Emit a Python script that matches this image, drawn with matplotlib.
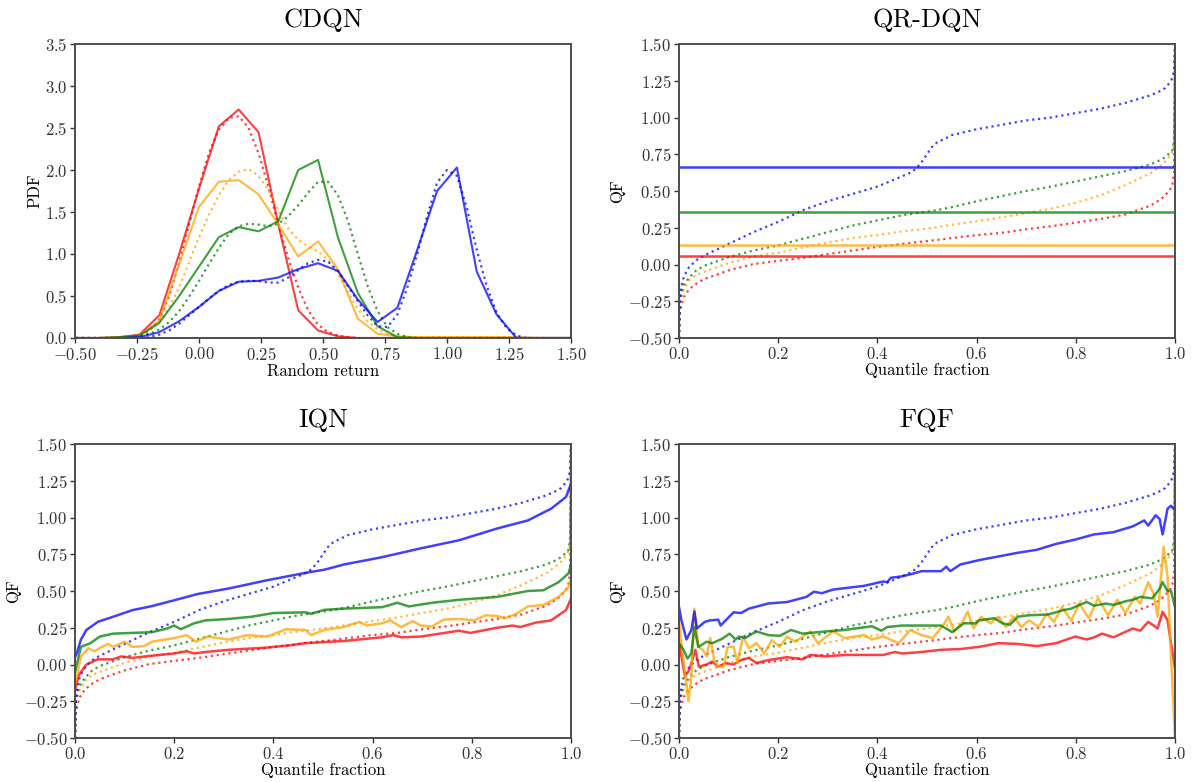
import matplotlib
matplotlib.use("Agg")
import matplotlib.pyplot as plt
import numpy as np

plt.rcParams['font.family'] = ['cmr10', 'DejaVu Serif']
plt.rcParams['mathtext.fontset'] = 'cm'
plt.rcParams['axes.formatter.use_mathtext'] = True
plt.rcParams['axes.unicode_minus'] = True

colors = ['red', 'orange', 'green', 'blue']

# ---------------- CDQN : categorical atoms (solid) and target pdf (dotted)
atoms = [-0.56, -0.48, -0.40, -0.32, -0.24, -0.16, -0.08, 0.00, 0.08, 0.16, 0.24, 0.32, 0.40, 0.48,
         0.56, 0.64, 0.72, 0.80, 0.88, 0.96, 1.04, 1.12, 1.20, 1.28, 1.36, 1.44, 1.52]
cdqn_red = [0, 0, 0, 0.01, 0.04, 0.27, 1.00, 1.78, 2.52, 2.72, 2.45, 1.35, 0.33, 0.09,
            0.02, 0, 0, 0, 0, 0, 0, 0, 0, 0, 0, 0, 0]
cdqn_orange = [0, 0, 0, 0.01, 0.03, 0.20, 0.88, 1.56, 1.86, 1.88, 1.71, 1.35, 0.97, 1.15,
               0.82, 0.23, 0.05, 0.02, 0.01, 0.01, 0.01, 0.01, 0.01, 0.01, 0, 0, 0]
cdqn_green = [0, 0, 0, 0.01, 0.03, 0.18, 0.50, 0.85, 1.20, 1.32, 1.27, 1.39, 2.00, 2.12,
              1.20, 0.54, 0.14, 0.01, 0, 0, 0, 0, 0, 0, 0, 0, 0]
cdqn_blue = [0, 0, 0, 0, 0.01, 0.07, 0.20, 0.37, 0.56, 0.67, 0.68, 0.72, 0.82, 0.89,
             0.80, 0.46, 0.19, 0.36, 1.05, 1.75, 2.03, 0.79, 0.28, 0.0, 0, 0, 0]

ret_grid = [-0.52, -0.48, -0.44, -0.40, -0.36, -0.32, -0.28, -0.24, -0.20, -0.16, -0.12, -0.08, -0.04,
            0.00, 0.04, 0.08, 0.12, 0.16, 0.20, 0.24, 0.28, 0.32, 0.36, 0.40, 0.44, 0.48, 0.52,
            0.56, 0.60, 0.64, 0.68, 0.72, 0.76, 0.80, 0.84, 0.88, 0.92, 0.96, 1.00, 1.04, 1.08,
            1.12, 1.16, 1.20, 1.24, 1.28, 1.32, 1.36, 1.40, 1.44, 1.48, 1.52]
pdf_red = [0, 0, 0, 0, 0, 0, 0.01, 0.03, 0.09, 0.22, 0.50, 0.90, 1.35,
           1.80, 2.20, 2.48, 2.62, 2.64, 2.50, 2.20, 1.80, 1.35, 0.95, 0.60, 0.33, 0.16, 0.07,
           0.03, 0.01, 0, 0, 0, 0, 0, 0, 0, 0, 0, 0, 0, 0,
           0, 0, 0, 0, 0, 0, 0, 0, 0, 0, 0]
pdf_orange = [0, 0, 0, 0, 0, 0, 0, 0.02, 0.08, 0.20, 0.37, 0.60, 0.90,
              1.20, 1.47, 1.70, 1.88, 1.98, 2.01, 1.93, 1.76, 1.52, 1.30, 1.17, 1.09, 1.03, 0.93,
              0.76, 0.55, 0.35, 0.20, 0.10, 0.05, 0.02, 0.01, 0.01, 0.01, 0.01, 0.01, 0.01, 0.01,
              0.01, 0.01, 0.01, 0.01, 0.01, 0, 0, 0, 0, 0, 0]
pdf_green = [0, 0, 0, 0, 0, 0, 0, 0.02, 0.05, 0.10, 0.19, 0.32, 0.49,
             0.68, 0.88, 1.07, 1.24, 1.33, 1.36, 1.35, 1.33, 1.36, 1.45, 1.58, 1.73, 1.86, 1.86,
             1.70, 1.40, 1.00, 0.62, 0.32, 0.13, 0.05, 0.01, 0, 0, 0, 0, 0, 0,
             0, 0, 0, 0, 0, 0, 0, 0, 0, 0, 0]
pdf_blue = [0, 0, 0, 0, 0, 0, 0, 0, 0.01, 0.04, 0.09, 0.17, 0.27,
            0.37, 0.47, 0.56, 0.63, 0.67, 0.68, 0.68, 0.66, 0.66, 0.72, 0.81, 0.89, 0.93, 0.91,
            0.80, 0.62, 0.44, 0.27, 0.14, 0.13, 0.28, 0.60, 1.00, 1.45, 1.85, 2.00, 1.93, 1.55,
            1.05, 0.62, 0.30, 0.12, 0.03, 0.0, 0, 0, 0, 0, 0]

# ---------------- target quantile functions (dotted), shared by QR-DQN / IQN / FQF
tau_grid = [0, 0.002, 0.005, 0.01, 0.02, 0.035, 0.05, 0.075, 0.1, 0.15, 0.2, 0.25, 0.3, 0.35,
            0.4, 0.45, 0.47, 0.48, 0.49, 0.5, 0.51, 0.52, 0.55, 0.6, 0.65, 0.7, 0.75, 0.8,
            0.85, 0.9, 0.95, 0.97, 0.98, 0.99, 0.995, 0.998, 1.0]
qf_red = [-0.5, -0.33, -0.27, -0.22, -0.17, -0.13, -0.10, -0.07, -0.04, 0.003, 0.025, 0.045, 0.07,
          0.095, 0.12, 0.14, 0.148, 0.152, 0.156, 0.16, 0.163, 0.167, 0.18, 0.20, 0.215, 0.24,
          0.26, 0.285, 0.31, 0.34, 0.40, 0.44, 0.47, 0.51, 0.55, 0.62, 1.5]
qf_orange = [-0.5, -0.28, -0.22, -0.17, -0.11, -0.07, -0.05, -0.02, 0.01, 0.055, 0.08, 0.115, 0.15,
             0.18, 0.20, 0.225, 0.233, 0.237, 0.24, 0.245, 0.25, 0.254, 0.27, 0.295, 0.32, 0.35,
             0.38, 0.42, 0.47, 0.54, 0.62, 0.67, 0.70, 0.74, 0.77, 0.82, 1.5]
qf_green = [-0.5, -0.25, -0.19, -0.14, -0.09, -0.04, -0.01, 0.02, 0.05, 0.095, 0.13, 0.175, 0.22,
            0.265, 0.30, 0.335, 0.345, 0.35, 0.355, 0.36, 0.365, 0.37, 0.39, 0.43, 0.465, 0.50,
            0.53, 0.565, 0.60, 0.635, 0.68, 0.71, 0.73, 0.76, 0.78, 0.85, 1.5]
qf_blue = [-0.5, -0.22, -0.15, -0.08, -0.02, 0.03, 0.06, 0.10, 0.14, 0.22, 0.29, 0.37, 0.43,
           0.48, 0.53, 0.60, 0.63, 0.66, 0.70, 0.75, 0.80, 0.83, 0.88, 0.92, 0.95, 0.98,
           1.00, 1.03, 1.06, 1.10, 1.15, 1.18, 1.20, 1.24, 1.27, 1.32, 1.5]

# ---------------- QR-DQN learned (flat) quantile values
qr_levels = [0.06, 0.13, 0.355, 0.66]   # red, orange, green, blue

# ---------------- IQN learned quantile functions
iqn_blue_tau = [0.0, 0.004, 0.012, 0.023, 0.046, 0.077, 0.116, 0.155, 0.2, 0.248, 0.31, 0.387, 0.464,
                0.503, 0.542, 0.619, 0.697, 0.774, 0.851, 0.913, 0.96, 0.99, 1.0]
iqn_blue = [0.05, 0.08, 0.17, 0.235, 0.29, 0.325, 0.37, 0.397, 0.437, 0.48, 0.517, 0.573, 0.623,
            0.645, 0.68, 0.73, 0.79, 0.845, 0.925, 0.98, 1.06, 1.14, 1.23]
iqn_green_tau = [0.0, 0.012, 0.031, 0.05, 0.077, 0.155, 0.186, 0.2, 0.213, 0.24, 0.263, 0.31, 0.356,
                 0.40, 0.464, 0.476, 0.503, 0.542, 0.619, 0.65, 0.673, 0.72, 0.774, 0.851, 0.913,
                 0.944, 0.975, 0.995, 1.0]
iqn_green = [-0.05, 0.12, 0.145, 0.19, 0.21, 0.22, 0.245, 0.265, 0.24, 0.28, 0.30, 0.31, 0.325,
             0.35, 0.355, 0.345, 0.372, 0.38, 0.39, 0.42, 0.395, 0.42, 0.44, 0.46, 0.50,
             0.505, 0.56, 0.62, 0.68]
iqn_orange_tau = [0.0, 0.012, 0.027, 0.039, 0.066, 0.077, 0.1, 0.116, 0.14, 0.155, 0.2, 0.225, 0.244,
                  0.267, 0.31, 0.348, 0.387, 0.426, 0.464, 0.476, 0.503, 0.542, 0.573, 0.588, 0.619,
                  0.635, 0.658, 0.681, 0.697, 0.72, 0.743, 0.774, 0.805, 0.828, 0.851, 0.867, 0.89,
                  0.913, 0.944, 0.975, 0.994, 1.0]
iqn_orange = [-0.13, 0.055, 0.11, 0.09, 0.14, 0.12, 0.155, 0.12, 0.125, 0.155, 0.18, 0.2, 0.155,
              0.19, 0.17, 0.2, 0.19, 0.24, 0.235, 0.2, 0.235, 0.255, 0.29, 0.265, 0.28,
              0.30, 0.255, 0.295, 0.265, 0.26, 0.305, 0.31, 0.30, 0.335, 0.33, 0.315, 0.345,
              0.395, 0.405, 0.46, 0.52, 0.58]
iqn_red_tau = [0.0, 0.008, 0.023, 0.046, 0.077, 0.093, 0.116, 0.155, 0.2, 0.225, 0.24, 0.263, 0.31,
               0.387, 0.433, 0.464, 0.542, 0.619, 0.642, 0.658, 0.697, 0.774, 0.797, 0.851, 0.882,
               0.898, 0.929, 0.96, 0.99, 1.0]
iqn_red = [-0.17, -0.07, 0.0, 0.035, 0.035, 0.055, 0.045, 0.06, 0.075, 0.09, 0.075, 0.085, 0.10,
           0.115, 0.13, 0.145, 0.16, 0.185, 0.20, 0.185, 0.19, 0.23, 0.215, 0.25, 0.265,
           0.255, 0.285, 0.30, 0.37, 0.45]

# ---------------- FQF learned quantile functions
fqf_blue_tau = [0.0, 0.005, 0.015, 0.025, 0.031, 0.036, 0.052, 0.063, 0.079, 0.084, 0.094, 0.11, 0.125,
                0.141, 0.18, 0.218, 0.257, 0.272, 0.288, 0.311, 0.373, 0.412, 0.42, 0.427, 0.45,
                0.474, 0.489, 0.528, 0.539, 0.547, 0.567, 0.605, 0.644, 0.683, 0.721, 0.76, 0.799,
                0.837, 0.876, 0.915, 0.938, 0.946, 0.961, 0.969, 0.975, 0.985, 0.992, 1.0]
fqf_blue = [0.39, 0.30, 0.17, 0.235, 0.36, 0.245, 0.29, 0.30, 0.305, 0.265, 0.30, 0.355, 0.35,
            0.38, 0.415, 0.425, 0.46, 0.495, 0.485, 0.51, 0.535, 0.565, 0.56, 0.59, 0.60,
            0.62, 0.635, 0.635, 0.665, 0.635, 0.68, 0.71, 0.735, 0.76, 0.78, 0.82, 0.85,
            0.885, 0.90, 0.94, 0.98, 0.945, 1.015, 0.99, 0.885, 1.06, 1.08, 1.05]
fqf_green_tau = [0.0, 0.009, 0.017, 0.025, 0.031, 0.039, 0.056, 0.067, 0.087, 0.102, 0.114, 0.121,
                 0.133, 0.156, 0.18, 0.203, 0.226, 0.249, 0.296, 0.334, 0.389, 0.408, 0.42, 0.45,
                 0.528, 0.551, 0.574, 0.598, 0.605, 0.636, 0.652, 0.667, 0.683, 0.706, 0.744,
                 0.775, 0.791, 0.807, 0.822, 0.837, 0.861, 0.876, 0.9, 0.915, 0.93, 0.954, 0.969,
                 0.975, 0.985, 0.992, 1.0]
fqf_green = [0.145, 0.10, 0.04, 0.075, 0.255, 0.12, 0.155, 0.145, 0.175, 0.21, 0.17, 0.19,
             0.18, 0.225, 0.20, 0.195, 0.235, 0.21, 0.225, 0.235, 0.26, 0.23, 0.255, 0.265,
             0.265, 0.22, 0.28, 0.28, 0.30, 0.315, 0.28, 0.27, 0.325, 0.335, 0.34,
             0.37, 0.38, 0.405, 0.425, 0.40, 0.415, 0.405, 0.43, 0.44, 0.46, 0.45, 0.515,
             0.56, 0.50, 0.50, 0.39]
fqf_orange_tau = [0.0, 0.005, 0.013, 0.019, 0.025, 0.031, 0.039, 0.048, 0.056, 0.063, 0.071, 0.079,
                  0.09, 0.098, 0.11, 0.118, 0.129, 0.141, 0.156, 0.172, 0.187, 0.203, 0.218, 0.234,
                  0.265, 0.28, 0.311, 0.334, 0.373, 0.389, 0.412, 0.443, 0.466, 0.489, 0.512, 0.535,
                  0.543, 0.555, 0.57, 0.582, 0.594, 0.609, 0.628, 0.644, 0.659, 0.675, 0.69, 0.706,
                  0.725, 0.741, 0.756, 0.772, 0.791, 0.807, 0.826, 0.845, 0.865, 0.884, 0.9, 0.919,
                  0.93, 0.946, 0.957, 0.965, 0.977, 0.985, 0.992, 1.0]
fqf_orange = [0.30, 0.145, -0.08, -0.25, -0.08, 0.38, 0.12, 0.10, 0.055, 0.18, 0.03, -0.015,
              -0.015, 0.12, 0.12, 0.01, 0.19, 0.11, 0.145, 0.075, 0.165, 0.12, 0.19, 0.155,
              0.225, 0.145, 0.225, 0.18, 0.20, 0.17, 0.19, 0.145, 0.235, 0.20, 0.18, 0.28,
              0.325, 0.225, 0.28, 0.36, 0.245, 0.325, 0.28, 0.325, 0.255, 0.325, 0.255, 0.30,
              0.255, 0.345, 0.29, 0.39, 0.30, 0.415, 0.315, 0.45, 0.335, 0.44, 0.35, 0.46,
              0.415, 0.56, 0.48, 0.325, 0.80, 0.60, 0.055, -0.5]
fqf_red_tau = [0.0, 0.005, 0.012, 0.021, 0.033, 0.04, 0.056, 0.067, 0.079, 0.094, 0.11, 0.125, 0.141,
               0.156, 0.18, 0.218, 0.249, 0.265, 0.296, 0.334, 0.373, 0.412, 0.435, 0.45, 0.489,
               0.528, 0.567, 0.605, 0.644, 0.683, 0.721, 0.76, 0.799, 0.822, 0.837, 0.853, 0.876,
               0.915, 0.93, 0.946, 0.957, 0.965, 0.975, 0.985, 0.992, 1.0]
fqf_red = [0.145, 0.055, -0.08, -0.035, 0.10, -0.015, 0.0, 0.02, -0.015, 0.01, 0.0, 0.03, 0.045,
           0.01, 0.03, 0.05, 0.035, 0.065, 0.055, 0.065, 0.065, 0.065, 0.085, 0.075, 0.085,
           0.10, 0.105, 0.12, 0.145, 0.14, 0.125, 0.145, 0.19, 0.17, 0.185, 0.21, 0.185,
           0.245, 0.23, 0.29, 0.265, 0.245, 0.36, 0.30, 0.145, -0.03]

ALPHA = 0.75
LW = 1.5
DLW = 1.6


def style_axes(ax, title, xlabel, ylabel):
    ax.set_title(title, fontsize=19, pad=12)
    ax.set_xlabel(xlabel, fontsize=12, labelpad=1)
    ax.set_ylabel(ylabel, fontsize=12, labelpad=2)
    ax.tick_params(labelsize=12, colors='0.2', length=3.5, width=1.0, pad=2)
    for s in ax.spines.values():
        s.set_color('0.3')
        s.set_linewidth(1.4)


def plot_targets(ax):
    for c, qf in zip(colors, [qf_red, qf_orange, qf_green, qf_blue]):
        ax.plot(tau_grid, qf, ':', color=c, alpha=ALPHA, lw=DLW)


fig = plt.figure(figsize=(11.94, 7.82), dpi=100)
W, H = 1194, 782
axes_px = [(75, 44), (679, 44), (75, 444), (679, 444)]
aw, ah = 496, 294
axs = [fig.add_axes([x / W, 1 - (y + ah) / H, aw / W, ah / H]) for x, y in axes_px]

# CDQN
ax = axs[0]
for c, sol, tgt in zip(colors, [cdqn_red, cdqn_orange, cdqn_green, cdqn_blue],
                       [pdf_red, pdf_orange, pdf_green, pdf_blue]):
    ax.plot(ret_grid, tgt, ':', color=c, alpha=ALPHA, lw=DLW)
    ax.plot(atoms, sol, '-', color=c, alpha=ALPHA, lw=LW)
ax.set_xlim(-0.5, 1.5)
ax.set_ylim(0, 3.5)
ax.set_xticks(np.arange(-0.5, 1.51, 0.25))
ax.xaxis.set_major_formatter(matplotlib.ticker.FormatStrFormatter('$%.2f$'))
ax.yaxis.set_major_formatter(matplotlib.ticker.FormatStrFormatter('$%.1f$'))
style_axes(ax, 'CDQN', 'Random return', 'PDF')

# QR-DQN
ax = axs[1]
plot_targets(ax)
for c, v in zip(colors, qr_levels):
    ax.axhline(v, color=c, alpha=ALPHA, lw=LW + 0.3)
style_axes(ax, 'QR-DQN', 'Quantile fraction', 'QF')

# IQN
ax = axs[2]
plot_targets(ax)
for c, t, q in zip(colors, [iqn_red_tau, iqn_orange_tau, iqn_green_tau, iqn_blue_tau],
                   [iqn_red, iqn_orange, iqn_green, iqn_blue]):
    ax.plot(t, q, '-', color=c, alpha=ALPHA, lw=LW + 0.3)
style_axes(ax, 'IQN', 'Quantile fraction', 'QF')

# FQF
ax = axs[3]
plot_targets(ax)
for c, t, q in zip(colors, [fqf_red_tau, fqf_orange_tau, fqf_green_tau, fqf_blue_tau],
                   [fqf_red, fqf_orange, fqf_green, fqf_blue]):
    ax.plot(t, q, '-', color=c, alpha=ALPHA, lw=LW + 0.3)
style_axes(ax, 'FQF', 'Quantile fraction', 'QF')

for ax in axs[1:]:
    ax.set_xlim(0, 1)
    ax.set_ylim(-0.5, 1.5)
    ax.set_xticks([0, 0.2, 0.4, 0.6, 0.8, 1.0])
    ax.set_yticks(np.arange(-0.5, 1.51, 0.25))
    ax.xaxis.set_major_formatter(matplotlib.ticker.FormatStrFormatter('$%.1f$'))
    ax.yaxis.set_major_formatter(matplotlib.ticker.FormatStrFormatter('$%.2f$'))

fig.savefig('out.png', dpi=100)
